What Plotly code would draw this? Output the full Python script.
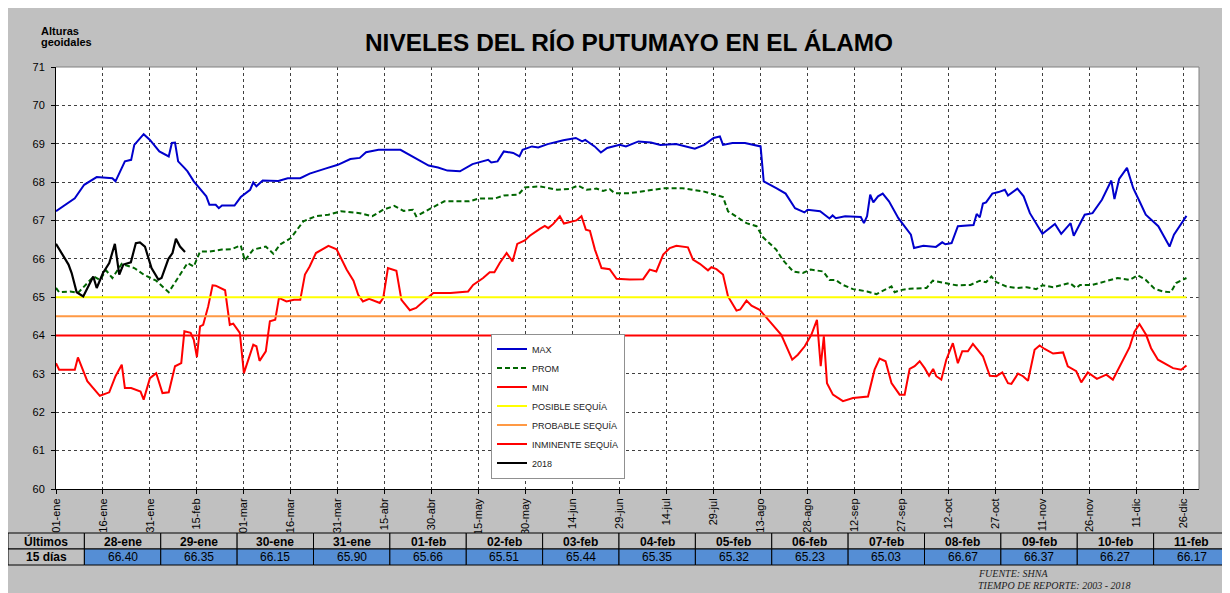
import plotly.graph_objects as go

# ---- data ----
# x = day of year (0 = 01-ene), y = geoidal height (m)
max_days = [0, 3, 6, 9, 11, 13, 18, 19, 22, 24, 25, 28, 30, 33, 36, 37, 38, 39, 41, 42, 44, 46, 48, 49,
            51, 52, 53, 57, 59, 62, 63, 64, 66, 71, 74, 78, 81, 86, 90, 94, 97, 99, 103, 110, 113, 116,
            119, 122, 125, 129, 133, 138, 139, 141, 143, 146, 148, 149, 152, 154, 157, 162, 166, 168,
            169, 172, 174, 176, 180, 182, 186, 190, 193, 198, 201, 204, 207, 210, 212, 213, 216, 220,
            225, 226, 230, 233, 236, 239, 240, 244, 247, 248, 249, 252, 257, 258, 259, 260, 261, 262.5,
            264, 266, 269, 273, 274, 277, 281, 283, 284, 286, 288, 293, 294, 295, 296, 297, 299, 301,
            303, 304, 307, 309, 311, 315, 319, 321, 324, 325, 328.5, 331, 334, 337, 338, 339.5, 342,
            344, 346, 348, 352, 355.6, 357, 361]
max_vals = [67.24, 67.41, 67.58, 67.93, 68.04, 68.13, 68.10, 68.02, 68.54, 68.58, 68.97, 69.25, 69.10,
            68.80, 68.67, 69.02, 69.03, 68.54, 68.37, 68.28, 68.02, 67.82, 67.63, 67.41, 67.41, 67.32,
            67.39, 67.39, 67.61, 67.80, 67.99, 67.89, 68.04, 68.03, 68.10, 68.10, 68.22, 68.35, 68.45,
            68.60, 68.63, 68.78, 68.84, 68.84, 68.71, 68.58, 68.43, 68.38, 68.30, 68.28, 68.47, 68.58,
            68.51, 68.54, 68.80, 68.76, 68.67, 68.84, 68.93, 68.90, 68.99, 69.09, 69.15, 69.06, 69.10,
            68.93, 68.77, 68.89, 68.97, 68.93, 69.06, 69.03, 68.97, 68.99, 68.93, 68.87, 68.97, 69.15,
            69.19, 68.97, 69.02, 69.02, 68.93, 68.02, 67.84, 67.70, 67.32, 67.21, 67.28, 67.24, 67.05,
            67.13, 67.06, 67.11, 67.09, 66.93, 67.11, 67.67, 67.47, 67.63, 67.70, 67.50, 67.06, 66.63,
            66.28, 66.34, 66.31, 66.43, 66.38, 66.41, 66.85, 66.88, 67.17, 67.08, 67.44, 67.47, 67.70,
            67.74, 67.80, 67.65, 67.83, 67.63, 67.19, 66.65, 66.91, 66.65, 66.93, 66.60, 67.15, 67.19,
            67.54, 68.04, 67.56, 68.08, 68.37, 67.84, 67.50, 67.15, 66.85, 66.32, 66.63, 67.12]

prom_days = [0, 1, 4.5, 7, 12, 14, 16, 18, 21, 25, 28, 32, 36, 38.5, 42, 44, 46, 49, 53, 56, 59, 60.3,
             63, 67, 69.4, 71.5, 75, 79, 83, 87, 91, 97, 101, 104.5, 108, 111, 114, 115, 119.4, 124,
             132, 135, 140, 143, 147.6, 149.7, 154.5, 160, 164, 166.7, 169.4, 172.6, 174.7, 176.8,
             178.4, 183, 187.5, 194, 200, 206.6, 213, 214.6, 220.5, 223.7, 225.8, 230, 232, 235.4,
             238.5, 241, 245, 247, 249, 251, 254.5, 259, 262, 266.8, 267.8, 269.4, 272.6, 278, 280,
             285.4, 287.5, 292, 295, 297, 298.7, 300.3, 303.5, 306.7, 310, 313, 315, 318.4, 323.7,
             325.8, 327, 331, 336.4, 339, 342.8, 345.5, 348, 350.8, 353.5, 356, 357.7, 361]
prom_vals = [65.24, 65.13, 65.15, 65.11, 65.54, 65.45, 65.70, 65.50, 65.87, 65.76, 65.59, 65.43, 65.13,
             65.45, 65.89, 65.80, 66.19, 66.19, 66.24, 66.25, 66.35, 65.96, 66.24, 66.32, 66.13, 66.37,
             66.54, 66.98, 67.11, 67.15, 67.24, 67.19, 67.11, 67.28, 67.38, 67.25, 67.28, 67.11, 67.30,
             67.50, 67.50, 67.57, 67.57, 67.65, 67.67, 67.86, 67.89, 67.80, 67.82, 67.91, 67.80, 67.83,
             67.77, 67.82, 67.71, 67.71, 67.76, 67.84, 67.84, 67.76, 67.61, 67.24, 66.93, 66.85, 66.56,
             66.24, 65.98, 65.67, 65.63, 65.72, 65.67, 65.45, 65.45, 65.33, 65.21, 65.15, 65.08, 65.28,
             65.13, 65.18, 65.22, 65.24, 65.43, 65.35, 65.31, 65.32, 65.43, 65.39, 65.54, 65.39, 65.28,
             65.24, 65.26, 65.21, 65.31, 65.26, 65.37, 65.24, 65.32, 65.32, 65.45, 65.50, 65.45, 65.57,
             65.45, 65.22, 65.15, 65.13, 65.37, 65.50]

min_days = [0, 1, 6, 7, 10, 14, 17, 19, 21, 22, 24, 27, 28, 30, 32, 34, 36, 38, 40, 41, 43, 44, 45, 46,
            47, 48.6, 50, 51, 54, 55.5, 56.6, 58.7, 60, 61.7, 63, 64, 65, 67, 68.3, 70, 71.2, 73.6, 76,
            78, 79.5, 81, 83, 87, 89.6, 92.8, 95, 96.5, 98, 100, 103.4, 104.5, 106, 108.7, 110.3, 113,
            115, 118.3, 120.5, 126, 131.6, 133.2, 136.4, 138.5, 140, 141.7, 143.9, 145.8, 147.3, 149.7,
            151.3, 154.5, 156.1, 157.2, 158.8, 160.9, 162.2, 166.2, 167.8, 169.2, 170.5, 172.1, 174.2,
            176.8, 179, 183.2, 187.5, 189.6, 191.7, 193.9, 196, 198.1, 201.8, 203.4, 205.6, 208.2,
            209.3, 210.9, 213, 214.6, 217.3, 218.5, 220.5, 222.1, 224.7, 227.9, 231.6, 235.1, 236.9,
            239.1, 241.2, 243, 244.2, 245.2, 246.2, 248.1, 251.3, 254.5, 259.3, 261.4, 263, 264.9,
            266.8, 269.4, 271, 272.6, 274.2, 275.8, 277.4, 278.8, 280.1, 281.1, 282.7, 284.3, 286.4,
            288, 289.4, 291.2, 292.8, 296, 298.2, 300.3, 302.2, 304, 305.1, 307.2, 308.8, 310.4, 312.5,
            314.1, 315.7, 318.4, 321.6, 323.1, 325.8, 327.4, 329.5, 332.4, 335.4, 337.5, 340.2, 342.8,
            344.4, 346, 348.1, 349.7, 351.9, 356.7, 359.3, 361]
min_vals = [63.28, 63.11, 63.11, 63.43, 62.81, 62.43, 62.52, 62.94, 63.24, 62.63, 62.63, 62.54, 62.33,
            62.89, 63.02, 62.50, 62.52, 63.20, 63.28, 64.11, 64.07, 63.89, 63.44, 64.24, 64.28, 64.76,
            65.31, 65.30, 65.18, 64.28, 64.31, 64.07, 63.02, 63.46, 63.76, 63.72, 63.34, 63.59, 64.37,
            64.41, 64.98, 64.89, 64.93, 64.93, 65.59, 65.80, 66.15, 66.34, 66.25, 65.72, 65.43, 65.06,
            64.89, 64.96, 64.85, 64.98, 65.76, 65.69, 64.93, 64.66, 64.72, 64.96, 65.11, 65.11, 65.15,
            65.32, 65.50, 65.65, 65.65, 65.89, 66.15, 65.93, 66.39, 66.48, 66.60, 66.78, 66.86, 66.80,
            66.91, 67.11, 66.92, 67.00, 67.11, 66.76, 66.73, 66.24, 65.76, 65.73, 65.48, 65.46, 65.47,
            65.72, 65.67, 66.11, 66.28, 66.34, 66.30, 65.98, 65.87, 65.70, 65.78, 65.73, 65.59, 65.02,
            64.65, 64.68, 64.91, 64.78, 64.67, 64.37, 64.02, 63.37, 63.50, 63.72, 64.02, 64.41, 63.20,
            63.98, 62.76, 62.46, 62.29, 62.37, 62.41, 63.11, 63.40, 63.33, 62.76, 62.46, 62.46, 63.13,
            63.20, 63.33, 63.15, 62.95, 63.13, 62.94, 62.85, 63.37, 63.80, 63.28, 63.59, 63.59, 63.78,
            63.46, 62.95, 62.94, 63.04, 62.76, 62.74, 63.01, 62.94, 62.82, 63.63, 63.74, 63.65, 63.53,
            63.56, 63.20, 63.07, 62.78, 63.04, 62.87, 62.98, 62.85, 63.28, 63.69, 64.10, 64.30, 64.02,
            63.67, 63.37, 63.15, 63.11, 63.22]

y2018_days = [0, 2, 4, 5, 6.6, 8.7, 10.6, 11.9, 13, 15, 17, 18.8, 20.2, 21.5, 23.9, 25.5, 26.8, 28.4,
              30.5, 32.7, 33.7, 35.9, 37.2, 38.3, 39.6, 41.2]
y2018_vals = [66.39, 66.11, 65.85, 65.63, 65.13, 65.02, 65.32, 65.54, 65.24, 65.63, 65.89, 66.39, 65.59,
              65.85, 65.91, 66.41, 66.43, 66.32, 65.76, 65.46, 65.50, 66.00, 66.15, 66.52, 66.32, 66.18]

umbral_names = ['POSIBLE SEQUÍA', 'PROBABLE SEQUÍA', 'INMINENTE SEQUÍA']
umbral_vals = [65.0, 64.5, 64.0]
umbral_colors = ['#FFFF00', '#FF9944', '#FF0000']
umbral_days = [0, 361]

tick_days = list(range(0, 361, 15))
tick_labels = ['01-ene', '16-ene', '31-ene', '15-feb', '01-mar', '16-mar', '31-mar', '15-abr', '30-abr',
               '15-may', '30-may', '14-jun', '29-jun', '14-jul', '29-jul', '13-ago', '28-ago', '12-sep',
               '27-sep', '12-oct', '27-oct', '11-nov', '26-nov', '11-dic', '26-dic']

tabla_fechas = ['28-ene', '29-ene', '30-ene', '31-ene', '01-feb', '02-feb', '03-feb', '04-feb',
                '05-feb', '06-feb', '07-feb', '08-feb', '09-feb', '10-feb', '11-feb']
tabla_valores = ['66.40', '66.35', '66.15', '65.90', '65.66', '65.51', '65.44', '65.35', '65.32',
                 '65.23', '65.03', '66.67', '66.37', '66.27', '66.17']

# ---- geometry ----
# the page puts the figure 8px in from the top-left corner, so the
# figure is 1222x585 and page pixels are converted to plot-paper coords
OFF = 8
W, H = 1230 - OFF, 593 - OFF
PL, PR, PT, PB = 56, 1199, 67, 489      # plot area in page pixels
FONT = 'Arial, Liberation Sans, sans-serif'
SERIF = 'Liberation Serif, Times New Roman, serif'
GRAY = '#C0C0C0'


def px(x):
    return (x - PL) / (PR - PL)


def py(y):
    return (PB - y) / (PB - PT)


fig = go.Figure()

fig.add_trace(go.Scatter(x=max_days, y=max_vals, mode='lines', name='MAX',
                         line=dict(color='#0000CC', width=2)))
fig.add_trace(go.Scatter(x=prom_days, y=prom_vals, mode='lines', name='PROM',
                         line=dict(color='#006600', width=2, dash='5px,3px')))
fig.add_trace(go.Scatter(x=min_days, y=min_vals, mode='lines', name='MIN',
                         line=dict(color='#FF0000', width=2)))
for name, val, col in zip(umbral_names, umbral_vals, umbral_colors):
    fig.add_trace(go.Scatter(x=umbral_days, y=[val, val], mode='lines', name=name,
                             line=dict(color=col, width=2)))
fig.add_trace(go.Scatter(x=y2018_days, y=y2018_vals, mode='lines', name='2018',
                         line=dict(color='#000000', width=2.2)))

fig.update_layout(
    width=W, height=H,
    margin=dict(l=PL - OFF, r=W - (PR - OFF), t=PT - OFF, b=H - (PB - OFF), pad=0),
    paper_bgcolor=GRAY, plot_bgcolor='white',
    font=dict(family=FONT, size=11, color='black'),
    showlegend=True,
    legend=dict(x=px(491), y=py(406), xanchor='left', yanchor='middle',
                bgcolor='white', bordercolor='#909090', borderwidth=1,
                font=dict(family=FONT, size=9, color='#222222'), tracegroupgap=0),
    xaxis=dict(range=[0, 365], tickmode='array',
               tickvals=tick_days, ticktext=tick_labels, tickangle=-90,
               showgrid=True, gridcolor='#404040', griddash='dot', gridwidth=1,
               showline=True, linecolor='black', linewidth=1,
               ticks='outside', ticklen=4, tickcolor='black', zeroline=False,
               tickfont=dict(family=FONT, size=11, color='black')),
    yaxis=dict(range=[60, 71], dtick=1,
               showgrid=True, gridcolor='#404040', griddash='dot', gridwidth=1,
               showline=True, linecolor='black', linewidth=1,
               ticks='outside', ticklen=4, tickcolor='black', zeroline=False,
               ticklabelstandoff=4,
               tickfont=dict(family=FONT, size=11, color='black')),
)

# gray top/right border of the plot area
fig.add_shape(type='line', xref='paper', yref='paper', x0=0, x1=1, y0=1, y1=1,
              line=dict(color='#808080', width=1))
fig.add_shape(type='line', xref='paper', yref='paper', x0=1, x1=1, y0=0, y1=1,
              line=dict(color='#808080', width=1))

# table "Últimos 15 días"
TX0, TX1 = OFF, 1230
TY0, TY1, TY2 = 533, 549, 565
ncol = len(tabla_fechas) + 1
cw = (TX1 - TX0) / ncol
headers = ['Últimos'] + tabla_fechas
values = ['15 días'] + tabla_valores
for i in range(ncol):
    xa, xb = TX0 + i * cw, TX0 + (i + 1) * cw
    fig.add_shape(type='rect', xref='paper', yref='paper', x0=px(xa), x1=px(xb), y0=py(TY1), y1=py(TY0),
                  fillcolor=GRAY, line=dict(color='black', width=1))
    fig.add_shape(type='rect', xref='paper', yref='paper', x0=px(xa), x1=px(xb), y0=py(TY2), y1=py(TY1),
                  fillcolor=GRAY if i == 0 else '#558ED5', line=dict(color='black', width=1))
    fig.add_annotation(text='<b>%s</b>' % headers[i], xref='paper', yref='paper',
                       x=px((xa + xb) / 2), y=py((TY0 + TY1) / 2 + 0.5), xanchor='center', yanchor='middle',
                       showarrow=False, font=dict(family=FONT, size=12, color='black'))
    fig.add_annotation(text='<b>%s</b>' % values[i] if i == 0 else values[i], xref='paper', yref='paper',
                       x=px((xa + xb) / 2), y=py((TY1 + TY2) / 2), xanchor='center', yanchor='middle',
                       showarrow=False, font=dict(family=FONT, size=12, color='black'))

# titles and notes
fig.add_annotation(text='<b>NIVELES DEL RÍO PUTUMAYO EN EL ÁLAMO</b>', xref='paper', yref='paper',
                   x=px(629), y=py(42), xanchor='center', yanchor='middle', showarrow=False,
                   font=dict(family=FONT, size=24.4, color='black'))
fig.add_annotation(text='<b>Alturas</b>', xref='paper', yref='paper', x=px(39), y=py(31),
                   xanchor='left', yanchor='middle', showarrow=False,
                   font=dict(family=FONT, size=11, color='black'))
fig.add_annotation(text='<b>geoidales</b>', xref='paper', yref='paper', x=px(39), y=py(42),
                   xanchor='left', yanchor='middle', showarrow=False,
                   font=dict(family=FONT, size=11, color='black'))
fig.add_annotation(text='<i>FUENTE: SHNA</i>', xref='paper', yref='paper', x=px(976), y=py(573),
                   xanchor='left', yanchor='middle', showarrow=False,
                   font=dict(family=SERIF, size=10, color='#222222'))
fig.add_annotation(text='<i>TIEMPO DE REPORTE: 2003 - 2018</i>', xref='paper', yref='paper',
                   x=px(976), y=py(585), xanchor='left', yanchor='middle', showarrow=False,
                   font=dict(family=SERIF, size=10, color='#222222'))

fig.write_html("out.html")
